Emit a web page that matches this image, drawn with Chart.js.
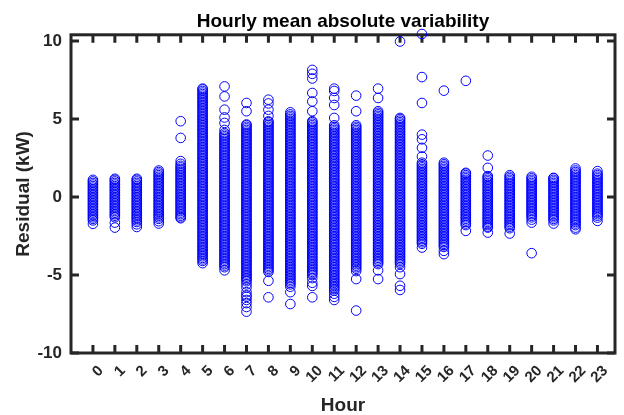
<!DOCTYPE html>
<html>
<head>
<meta charset="utf-8">
<title>Hourly mean absolute variability</title>
<script src="https://cdn.jsdelivr.net/npm/chart.js@4.4.0/dist/chart.umd.min.js"></script>
<style>
  html, body { margin: 0; padding: 0; background: #fff; }
</style>
</head>
<body>
<canvas id="residualChart" width="624" height="415"></canvas>
<script>
// hours on the x axis
var hours = [0, 1, 2, 3, 4, 5, 6, 7, 8, 9, 10, 11, 12, 13, 14, 15, 16, 17, 18, 19, 20, 21, 22, 23];
var yTickValues = [-10, -5, 0, 5, 10];

// residuals (kW), one list per hour
var r00 = [1.1, 1.0, 0.9, 0.8, 0.7, 0.6, 0.5, 0.4, 0.3, 0.2, 0.1, 0.0, -0.1, -0.2, -0.3, -0.4, -0.5, -0.6, -0.7, -0.8, -0.9, -1.0, -1.1, -1.2, -1.3, -1.4, -1.5, -1.72];
var r01 = [1.17, 1.1, 1.0, 0.9, 0.8, 0.7, 0.6, 0.5, 0.4, 0.3, 0.2, 0.1, 0.0, -0.1, -0.2, -0.3, -0.4, -0.5, -0.6, -0.7, -0.8, -0.9, -1.0, -1.1, -1.2, -1.3, -1.64, -1.96];
var r02 = [1.17, 1.1, 1.0, 0.9, 0.8, 0.7, 0.6, 0.5, 0.4, 0.3, 0.2, 0.1, 0.0, -0.1, -0.2, -0.3, -0.4, -0.5, -0.6, -0.7, -0.8, -0.9, -1.0, -1.1, -1.2, -1.3, -1.4, -1.5, -1.6, -1.75, -1.92];
var r03 = [1.7, 1.6, 1.5, 1.4, 1.3, 1.2, 1.1, 1.0, 0.9, 0.8, 0.7, 0.6, 0.5, 0.4, 0.3, 0.2, 0.1, 0.0, -0.1, -0.2, -0.3, -0.4, -0.5, -0.6, -0.7, -0.8, -0.9, -1.0, -1.1, -1.2, -1.3, -1.4, -1.55, -1.7];
var r04 = [4.86, 3.79, 2.3, 2.13, 2.0, 1.9, 1.8, 1.7, 1.6, 1.5, 1.4, 1.3, 1.2, 1.1, 1.0, 0.9, 0.8, 0.7, 0.6, 0.5, 0.4, 0.3, 0.2, 0.1, 0.0, -0.1, -0.2, -0.3, -0.4, -0.5, -0.6, -0.7, -0.8, -0.9, -1.0, -1.1, -1.2, -1.3, -1.36];
var r05 = [6.95, 6.9, 6.8, 6.7, 6.6, 6.5, 6.4, 6.3, 6.2, 6.1, 6.0, 5.9, 5.8, 5.7, 5.6, 5.5, 5.4, 5.3, 5.2, 5.1, 5.0,
           4.9, 4.8, 4.7, 4.6, 4.5, 4.4, 4.3, 4.2, 4.1, 4.0, 3.9, 3.8, 3.7, 3.6, 3.5, 3.4, 3.3, 3.2, 3.1, 3.0,
           2.9, 2.8, 2.7, 2.6, 2.5, 2.4, 2.3, 2.2, 2.1, 2.0, 1.9, 1.8, 1.7, 1.6, 1.5, 1.4, 1.3, 1.2, 1.1, 1.0,
           0.9, 0.8, 0.7, 0.6, 0.5, 0.4, 0.3, 0.2, 0.1, 0.0, -0.1, -0.2, -0.3, -0.4, -0.5, -0.6, -0.7, -0.8, -0.9, -1.0,
           -1.1, -1.2, -1.3, -1.4, -1.5, -1.6, -1.7, -1.8, -1.9, -2.0, -2.1, -2.2, -2.3, -2.4, -2.5, -2.6, -2.7, -2.8, -2.9, -3.0,
           -3.1, -3.2, -3.3, -3.4, -3.5, -3.6, -3.7, -3.8, -3.9, -4.0, -4.1, -4.24];
var r06 = [7.09, 6.45, 5.6, 5.1, 4.75, 4.3, 4.1, 4.0, 3.9, 3.8, 3.7, 3.6, 3.5, 3.4, 3.3, 3.2, 3.1, 3.0,
           2.9, 2.8, 2.7, 2.6, 2.5, 2.4, 2.3, 2.2, 2.1, 2.0, 1.9, 1.8, 1.7, 1.6, 1.5, 1.4, 1.3, 1.2, 1.1, 1.0,
           0.9, 0.8, 0.7, 0.6, 0.5, 0.4, 0.3, 0.2, 0.1, 0.0, -0.1, -0.2, -0.3, -0.4, -0.5, -0.6, -0.7, -0.8, -0.9, -1.0,
           -1.1, -1.2, -1.3, -1.4, -1.5, -1.6, -1.7, -1.8, -1.9, -2.0, -2.1, -2.2, -2.3, -2.4, -2.5, -2.6, -2.7, -2.8, -2.9, -3.0,
           -3.1, -3.2, -3.3, -3.4, -3.5, -3.6, -3.7, -3.8, -3.9, -4.0, -4.1, -4.2, -4.3, -4.4, -4.5, -4.7];
var r07 = [6.03, 5.5, 4.65, 4.6, 4.5, 4.4, 4.3, 4.2, 4.1, 4.0, 3.9, 3.8, 3.7, 3.6, 3.5, 3.4, 3.3, 3.2, 3.1, 3.0,
           2.9, 2.8, 2.7, 2.6, 2.5, 2.4, 2.3, 2.2, 2.1, 2.0, 1.9, 1.8, 1.7, 1.6, 1.5, 1.4, 1.3, 1.2, 1.1, 1.0,
           0.9, 0.8, 0.7, 0.6, 0.5, 0.4, 0.3, 0.2, 0.1, 0.0, -0.1, -0.2, -0.3, -0.4, -0.5, -0.6, -0.7, -0.8, -0.9, -1.0,
           -1.1, -1.2, -1.3, -1.4, -1.5, -1.6, -1.7, -1.8, -1.9, -2.0, -2.1, -2.2, -2.3, -2.4, -2.5, -2.6, -2.7, -2.8, -2.9, -3.0,
           -3.1, -3.2, -3.3, -3.4, -3.5, -3.6, -3.7, -3.8, -3.9, -4.0, -4.1, -4.2, -4.3, -4.4, -4.5, -4.6, -4.7, -4.8, -4.9, -5.0,
           -5.1, -5.2, -5.3, -5.4, -5.6, -5.8, -6.1, -6.3, -6.4, -6.6, -6.8, -7.05, -7.35];
var r08 = [6.24, 6.0, 5.6, 5.2, 4.85, 4.8, 4.7, 4.6, 4.5, 4.4, 4.3, 4.2, 4.1, 4.0, 3.9, 3.8, 3.7, 3.6, 3.5, 3.4, 3.3, 3.2, 3.1, 3.0,
           2.9, 2.8, 2.7, 2.6, 2.5, 2.4, 2.3, 2.2, 2.1, 2.0, 1.9, 1.8, 1.7, 1.6, 1.5, 1.4, 1.3, 1.2, 1.1, 1.0,
           0.9, 0.8, 0.7, 0.6, 0.5, 0.4, 0.3, 0.2, 0.1, 0.0, -0.1, -0.2, -0.3, -0.4, -0.5, -0.6, -0.7, -0.8, -0.9, -1.0,
           -1.1, -1.2, -1.3, -1.4, -1.5, -1.6, -1.7, -1.8, -1.9, -2.0, -2.1, -2.2, -2.3, -2.4, -2.5, -2.6, -2.7, -2.8, -2.9, -3.0,
           -3.1, -3.2, -3.3, -3.4, -3.5, -3.6, -3.7, -3.8, -3.9, -4.0, -4.1, -4.2, -4.3, -4.4, -4.5, -4.6, -4.7, -4.8, -5.37, -6.43];
var r09 = [5.43, 5.3, 5.2, 5.1, 5.0, 4.9, 4.8, 4.7, 4.6, 4.5, 4.4, 4.3, 4.2, 4.1, 4.0, 3.9, 3.8, 3.7, 3.6, 3.5, 3.4, 3.3, 3.2, 3.1, 3.0,
           2.9, 2.8, 2.7, 2.6, 2.5, 2.4, 2.3, 2.2, 2.1, 2.0, 1.9, 1.8, 1.7, 1.6, 1.5, 1.4, 1.3, 1.2, 1.1, 1.0,
           0.9, 0.8, 0.7, 0.6, 0.5, 0.4, 0.3, 0.2, 0.1, 0.0, -0.1, -0.2, -0.3, -0.4, -0.5, -0.6, -0.7, -0.8, -0.9, -1.0,
           -1.1, -1.2, -1.3, -1.4, -1.5, -1.6, -1.7, -1.8, -1.9, -2.0, -2.1, -2.2, -2.3, -2.4, -2.5, -2.6, -2.7, -2.8, -2.9, -3.0,
           -3.1, -3.2, -3.3, -3.4, -3.5, -3.6, -3.7, -3.8, -3.9, -4.0, -4.1, -4.2, -4.3, -4.4, -4.5, -4.6, -4.7, -4.8, -4.9, -5.0,
           -5.1, -5.2, -5.3, -5.4, -5.5, -5.6, -5.75, -6.1, -6.86];
var r10 = [8.15, 7.9, 7.6, 6.67, 6.13, 5.5, 4.86, 4.8, 4.7, 4.6, 4.5, 4.4, 4.3, 4.2, 4.1, 4.0, 3.9, 3.8, 3.7, 3.6, 3.5, 3.4, 3.3, 3.2, 3.1, 3.0,
           2.9, 2.8, 2.7, 2.6, 2.5, 2.4, 2.3, 2.2, 2.1, 2.0, 1.9, 1.8, 1.7, 1.6, 1.5, 1.4, 1.3, 1.2, 1.1, 1.0,
           0.9, 0.8, 0.7, 0.6, 0.5, 0.4, 0.3, 0.2, 0.1, 0.0, -0.1, -0.2, -0.3, -0.4, -0.5, -0.6, -0.7, -0.8, -0.9, -1.0,
           -1.1, -1.2, -1.3, -1.4, -1.5, -1.6, -1.7, -1.8, -1.9, -2.0, -2.1, -2.2, -2.3, -2.4, -2.5, -2.6, -2.7, -2.8, -2.9, -3.0,
           -3.1, -3.2, -3.3, -3.4, -3.5, -3.6, -3.7, -3.8, -3.9, -4.0, -4.1, -4.2, -4.3, -4.4, -4.5, -4.6, -4.7, -4.8, -4.9, -5.0,
           -5.2, -5.5, -5.7, -6.43];
var r11 = [6.95, 6.8, 6.35, 5.9, 5.07, 4.6, 4.5, 4.4, 4.3, 4.2, 4.1, 4.0, 3.9, 3.8, 3.7, 3.6, 3.5, 3.4, 3.3, 3.2, 3.1, 3.0,
           2.9, 2.8, 2.7, 2.6, 2.5, 2.4, 2.3, 2.2, 2.1, 2.0, 1.9, 1.8, 1.7, 1.6, 1.5, 1.4, 1.3, 1.2, 1.1, 1.0,
           0.9, 0.8, 0.7, 0.6, 0.5, 0.4, 0.3, 0.2, 0.1, 0.0, -0.1, -0.2, -0.3, -0.4, -0.5, -0.6, -0.7, -0.8, -0.9, -1.0,
           -1.1, -1.2, -1.3, -1.4, -1.5, -1.6, -1.7, -1.8, -1.9, -2.0, -2.1, -2.2, -2.3, -2.4, -2.5, -2.6, -2.7, -2.8, -2.9, -3.0,
           -3.1, -3.2, -3.3, -3.4, -3.5, -3.6, -3.7, -3.8, -3.9, -4.0, -4.1, -4.2, -4.3, -4.4, -4.5, -4.6, -4.7, -4.8, -4.9, -5.0,
           -5.1, -5.2, -5.3, -5.4, -5.5, -5.6, -5.7, -5.8, -5.9, -6.0, -6.2, -6.4, -6.6];
var r12 = [6.5, 5.5, 4.6, 4.5, 4.4, 4.3, 4.2, 4.1, 4.0, 3.9, 3.8, 3.7, 3.6, 3.5, 3.4, 3.3, 3.2, 3.1, 3.0,
           2.9, 2.8, 2.7, 2.6, 2.5, 2.4, 2.3, 2.2, 2.1, 2.0, 1.9, 1.8, 1.7, 1.6, 1.5, 1.4, 1.3, 1.2, 1.1, 1.0,
           0.9, 0.8, 0.7, 0.6, 0.5, 0.4, 0.3, 0.2, 0.1, 0.0, -0.1, -0.2, -0.3, -0.4, -0.5, -0.6, -0.7, -0.8, -0.9, -1.0,
           -1.1, -1.2, -1.3, -1.4, -1.5, -1.6, -1.7, -1.8, -1.9, -2.0, -2.1, -2.2, -2.3, -2.4, -2.5, -2.6, -2.7, -2.8, -2.9, -3.0,
           -3.1, -3.2, -3.3, -3.4, -3.5, -3.6, -3.7, -3.8, -3.9, -4.0, -4.1, -4.2, -4.3, -4.4, -4.5, -4.6, -4.75, -5.26, -7.28];
var r13 = [6.95, 6.35, 5.5, 5.4, 5.3, 5.2, 5.1, 5.0, 4.9, 4.8, 4.7, 4.6, 4.5, 4.4, 4.3, 4.2, 4.1, 4.0, 3.9, 3.8, 3.7, 3.6, 3.5, 3.4, 3.3, 3.2, 3.1, 3.0,
           2.9, 2.8, 2.7, 2.6, 2.5, 2.4, 2.3, 2.2, 2.1, 2.0, 1.9, 1.8, 1.7, 1.6, 1.5, 1.4, 1.3, 1.2, 1.1, 1.0,
           0.9, 0.8, 0.7, 0.6, 0.5, 0.4, 0.3, 0.2, 0.1, 0.0, -0.1, -0.2, -0.3, -0.4, -0.5, -0.6, -0.7, -0.8, -0.9, -1.0,
           -1.1, -1.2, -1.3, -1.4, -1.5, -1.6, -1.7, -1.8, -1.9, -2.0, -2.1, -2.2, -2.3, -2.4, -2.5, -2.6, -2.7, -2.8, -2.9, -3.0,
           -3.1, -3.2, -3.3, -3.4, -3.5, -3.6, -3.7, -3.8, -3.9, -4.0, -4.1, -4.2, -4.3, -4.7, -5.26];
var r14 = [9.97, 5.07, 5.0, 4.9, 4.8, 4.7, 4.6, 4.5, 4.4, 4.3, 4.2, 4.1, 4.0, 3.9, 3.8, 3.7, 3.6, 3.5, 3.4, 3.3, 3.2, 3.1, 3.0,
           2.9, 2.8, 2.7, 2.6, 2.5, 2.4, 2.3, 2.2, 2.1, 2.0, 1.9, 1.8, 1.7, 1.6, 1.5, 1.4, 1.3, 1.2, 1.1, 1.0,
           0.9, 0.8, 0.7, 0.6, 0.5, 0.4, 0.3, 0.2, 0.1, 0.0, -0.1, -0.2, -0.3, -0.4, -0.5, -0.6, -0.7, -0.8, -0.9, -1.0,
           -1.1, -1.2, -1.3, -1.4, -1.5, -1.6, -1.7, -1.8, -1.9, -2.0, -2.1, -2.2, -2.3, -2.4, -2.5, -2.6, -2.7, -2.8, -2.9, -3.0,
           -3.1, -3.2, -3.3, -3.4, -3.5, -3.6, -3.7, -3.8, -3.9, -4.0, -4.1, -4.2, -4.3, -4.5, -4.94, -5.69, -5.96];
var r15 = [10.45, 7.69, 6.03, 4.0, 3.7, 3.15, 2.6, 2.2, 2.1, 2.0, 1.9, 1.8, 1.7, 1.6, 1.5, 1.4, 1.3, 1.2, 1.1, 1.0,
           0.9, 0.8, 0.7, 0.6, 0.5, 0.4, 0.3, 0.2, 0.1, 0.0, -0.1, -0.2, -0.3, -0.4, -0.5, -0.6, -0.7, -0.8, -0.9, -1.0,
           -1.1, -1.2, -1.3, -1.4, -1.5, -1.6, -1.7, -1.8, -1.9, -2.0, -2.1, -2.2, -2.3, -2.4, -2.5, -2.6, -2.7, -2.8, -2.9, -3.0, -3.24];
var r16 = [6.82, 2.2, 2.1, 2.0, 1.9, 1.8, 1.7, 1.6, 1.5, 1.4, 1.3, 1.2, 1.1, 1.0,
           0.9, 0.8, 0.7, 0.6, 0.5, 0.4, 0.3, 0.2, 0.1, 0.0, -0.1, -0.2, -0.3, -0.4, -0.5, -0.6, -0.7, -0.8, -0.9, -1.0,
           -1.1, -1.2, -1.3, -1.4, -1.5, -1.6, -1.7, -1.8, -1.9, -2.0, -2.1, -2.2, -2.3, -2.4, -2.5, -2.6, -2.7, -2.8, -2.9, -3.0,
           -3.1, -3.2, -3.45, -3.66];
var r17 = [7.45, 1.55, 1.5, 1.4, 1.3, 1.2, 1.1, 1.0, 0.9, 0.8, 0.7, 0.6, 0.5, 0.4, 0.3, 0.2, 0.1, 0.0,
           -0.1, -0.2, -0.3, -0.4, -0.5, -0.6, -0.7, -0.8, -0.9, -1.0, -1.1, -1.2, -1.3, -1.4, -1.5, -1.6, -1.7, -1.8, -2.17];
var r18 = [2.66, 1.87, 1.34, 1.3, 1.2, 1.1, 1.0, 0.9, 0.8, 0.7, 0.6, 0.5, 0.4, 0.3, 0.2, 0.1, 0.0,
           -0.1, -0.2, -0.3, -0.4, -0.5, -0.6, -0.7, -0.8, -0.9, -1.0, -1.1, -1.2, -1.3, -1.4, -1.5, -1.6, -1.7, -1.8, -1.9, -1.96, -2.28];
var r19 = [1.4, 1.3, 1.2, 1.1, 1.0, 0.9, 0.8, 0.7, 0.6, 0.5, 0.4, 0.3, 0.2, 0.1, 0.0,
           -0.1, -0.2, -0.3, -0.4, -0.5, -0.6, -0.7, -0.8, -0.9, -1.0, -1.1, -1.2, -1.3, -1.4, -1.5, -1.6, -1.7, -1.8, -1.9, -2.0, -2.34];
var r20 = [1.3, 1.2, 1.1, 1.0, 0.9, 0.8, 0.7, 0.6, 0.5, 0.4, 0.3, 0.2, 0.1, 0.0,
           -0.1, -0.2, -0.3, -0.4, -0.5, -0.6, -0.7, -0.8, -0.9, -1.0, -1.1, -1.2, -1.3, -1.45, -1.64, -3.6];
var r21 = [1.23, 1.2, 1.1, 1.0, 0.9, 0.8, 0.7, 0.6, 0.5, 0.4, 0.3, 0.2, 0.1, 0.0,
           -0.1, -0.2, -0.3, -0.4, -0.5, -0.6, -0.7, -0.8, -0.9, -1.0, -1.1, -1.2, -1.3, -1.4, -1.5, -1.7];
var r22 = [1.83, 1.7, 1.6, 1.5, 1.4, 1.3, 1.2, 1.1, 1.0, 0.9, 0.8, 0.7, 0.6, 0.5, 0.4, 0.3, 0.2, 0.1, 0.0,
           -0.1, -0.2, -0.3, -0.4, -0.5, -0.6, -0.7, -0.8, -0.9, -1.0, -1.1, -1.2, -1.3, -1.4, -1.5, -1.6, -1.7, -1.8, -1.96, -2.07];
var r23 = [1.66, 1.5, 1.4, 1.3, 1.2, 1.1, 1.0, 0.9, 0.8, 0.7, 0.6, 0.5, 0.4, 0.3, 0.2, 0.1, 0.0,
           -0.1, -0.2, -0.3, -0.4, -0.5, -0.6, -0.7, -0.8, -0.9, -1.0, -1.1, -1.2, -1.32, -1.53];

var residualsByHour = [r00, r01, r02, r03, r04, r05, r06, r07, r08, r09, r10, r11,
                       r12, r13, r14, r15, r16, r17, r18, r19, r20, r21, r22, r23];

var axisColor = '#262626';
var fontFamily = '"Liberation Sans", Arial, Helvetica, sans-serif';

var points = [];
residualsByHour.forEach(function (vals, i) {
    vals.forEach(function (v) {
        points.push({ x: hours[i], y: v });
    });
});

// matlab style box with inward ticks on all four sides
var boxAxes = {
    id: 'boxAxes',
    beforeDatasetsDraw: function (chart) {
        var c = chart.ctx;
        var a = chart.chartArea;
        var xs = chart.scales.x;
        var ys = chart.scales.y;
        c.save();
        c.strokeStyle = axisColor;
        c.lineWidth = 3;
        c.strokeRect(a.left, a.top, a.right - a.left, a.bottom - a.top);
        c.beginPath();
        xs.ticks.forEach(function (t) {
            var px = xs.getPixelForValue(t.value);
            c.moveTo(px, a.bottom); c.lineTo(px, a.bottom - 8);
            c.moveTo(px, a.top); c.lineTo(px, a.top + 8);
        });
        ys.ticks.forEach(function (t) {
            var py = ys.getPixelForValue(t.value);
            c.moveTo(a.left, py); c.lineTo(a.left + 8, py);
            c.moveTo(a.right, py); c.lineTo(a.right - 8, py);
        });
        c.stroke();
        c.restore();
    }
};

var ctx = document.getElementById('residualChart').getContext('2d');

var residualChart = new Chart(ctx, {
    type: 'scatter',
    data: {
        datasets: [{
            label: 'Residual',
            data: points,
            pointStyle: 'circle',
            pointRadius: 4.8,
            pointBorderWidth: 1,
            borderColor: '#0000ff',
            backgroundColor: 'rgba(0,0,0,0)',
            clip: false
        }]
    },
    options: {
        responsive: false,
        animation: false,
        layout: {
            padding: { left: 0, right: 9, top: 0, bottom: 0 }
        },
        plugins: {
            legend: { display: false },
            tooltip: { enabled: false },
            title: {
                display: true,
                fullSize: false,
                text: 'Hourly mean absolute variability',
                color: '#000',
                font: { family: fontFamily, size: 19, weight: 'bold' },
                padding: { top: 10, bottom: 2 }
            }
        },
        scales: {
            x: {
                type: 'linear',
                min: -1,
                max: 23.8,
                afterBuildTicks: function (scale) {
                    scale.ticks = hours.map(function (h) { return { value: h }; });
                },
                afterFit: function (scale) {
                    scale.height = 62;
                },
                grid: { display: false, drawTicks: false },
                border: { display: false },
                ticks: {
                    autoSkip: false,
                    minRotation: 45,
                    maxRotation: 45,
                    labelOffset: 8,
                    padding: 9,
                    color: axisColor,
                    font: { family: fontFamily, size: 15, weight: 'bold' }
                },
                title: {
                    display: true,
                    text: 'Hour',
                    color: axisColor,
                    font: { family: fontFamily, size: 19, weight: 'bold', lineHeight: 1 },
                    padding: { top: 0, bottom: 0 }
                }
            },
            y: {
                min: -10,
                max: 10.4,
                afterBuildTicks: function (scale) {
                    scale.ticks = yTickValues.map(function (v) { return { value: v }; });
                },
                afterFit: function (scale) {
                    scale.width = 71;
                },
                grid: { display: false, drawTicks: false },
                border: { display: false },
                ticks: {
                    padding: 9,
                    color: axisColor,
                    font: { family: fontFamily, size: 17, weight: 'bold' }
                },
                title: {
                    display: true,
                    text: 'Residual (kW)',
                    color: axisColor,
                    font: { family: fontFamily, size: 19, weight: 'bold' },
                    padding: { top: 12, bottom: 0 }
                }
            }
        }
    },
    plugins: [boxAxes]
});
</script>
</body>
</html>
